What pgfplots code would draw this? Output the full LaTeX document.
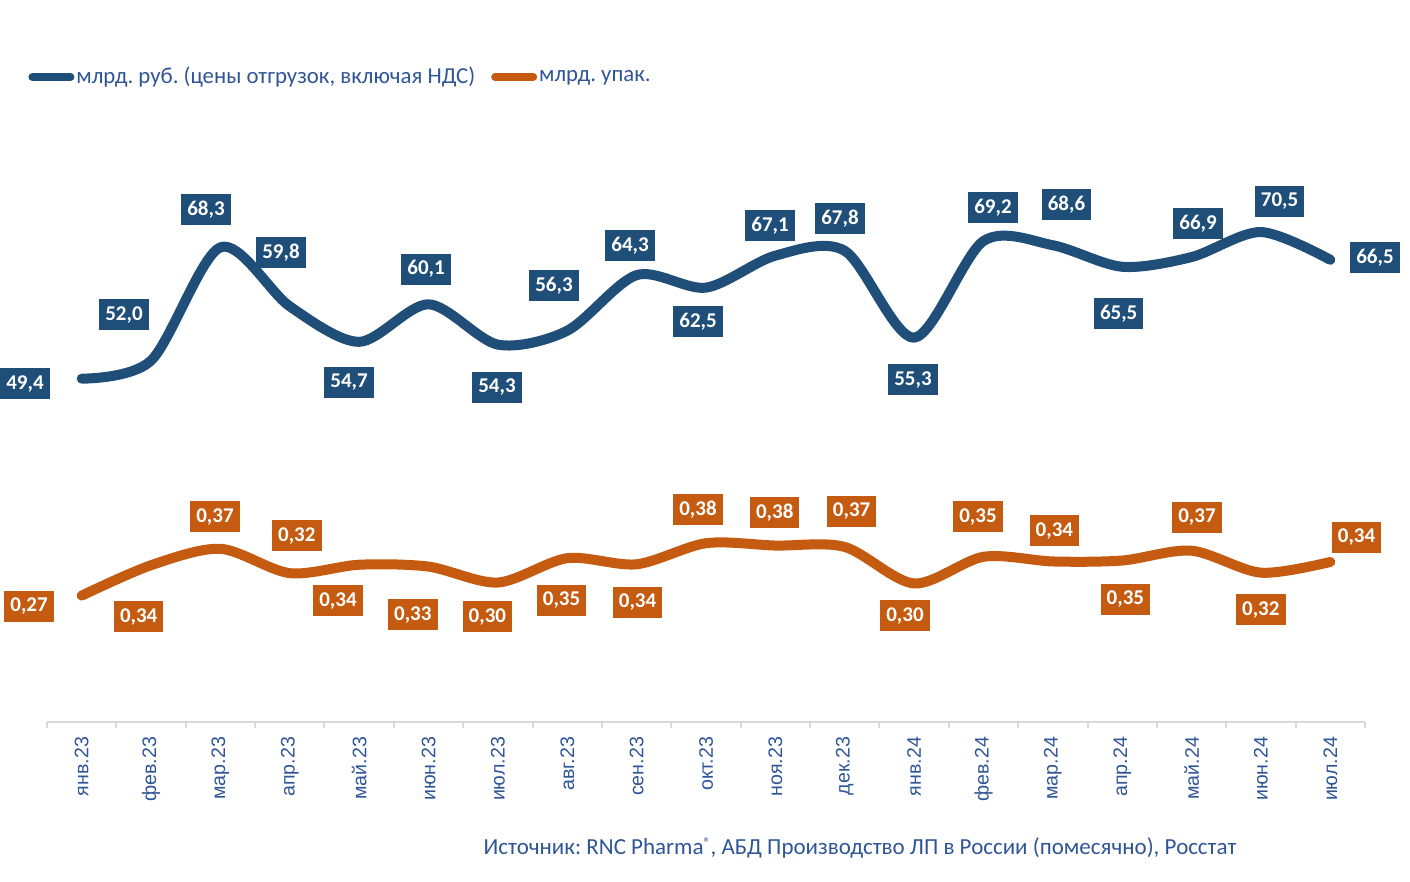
\documentclass[border=0pt]{standalone}
\usepackage{fontspec}
\setmainfont{Carlito}
\newfontfamily\arialfont{Liberation Sans}
\usepackage{pgfplots}
\pgfplotsset{compat=1.18}

\definecolor{rubblue}{HTML}{1F4E79}
\definecolor{upkorange}{HTML}{C55A11}
\definecolor{txtblue}{HTML}{2F5597}
\definecolor{axisgray}{HTML}{D9D9D9}

\tikzset{
  bl/.style={fill=rubblue, text=white, font=\bfseries\fontsize{10.5}{12}\selectfont,
             minimum width=24.75pt, minimum height=15.5pt, inner sep=0pt},
  ol/.style={bl, fill=upkorange},
}

\begin{document}
\frenchspacing
\begin{tikzpicture}
\useasboundingbox (0,0) rectangle (705pt,441pt);

% млрд. руб.
\begin{axis}[
  at={(23.5pt,80pt)}, anchor=south west,
  scale only axis, width=659pt, height=278pt,
  xmin=-0.5, xmax=18.5, ymin=0, ymax=80,
  axis x line*=bottom, axis y line=none,
  axis line style={-, draw=axisgray, line width=1pt},
  xtick={0,...,18},
  xticklabels={янв.23,фев.23,мар.23,апр.23,май.23,июн.23,июл.23,авг.23,сен.23,окт.23,ноя.23,дек.23,янв.24,фев.24,мар.24,апр.24,май.24,июн.24,июл.24},
  major tick length=0pt,
  minor xtick={-0.5,0.5,...,18.5},
  minor tick length=3pt,
  tick align=outside,
  minor tick style={draw=axisgray, line width=1pt},
  xticklabel style={rotate=90, anchor=east, xshift=-4pt,
                    font=\arialfont\fontsize{9.8}{11}\selectfont, text=txtblue},
  clip=false,
]
\addplot[rubblue, line width=5pt, smooth, line cap=round, line join=round] coordinates {
  (0,49.4) (1,52.0) (2,68.3) (3,59.8) (4,54.7) (5,60.1) (6,54.3) (7,56.3) (8,64.3) (9,62.5)
  (10,67.1) (11,67.8) (12,55.3) (13,69.2) (14,68.6) (15,65.5) (16,66.9) (17,70.5) (18,66.5)
};
\node[bl] at (-0.817,48.7) {49,4};
\node[bl] at (0.610,58.6) {52,0};
\node[bl] at (1.792,73.7) {68,3};
\node[bl] at (2.873,67.55) {59,8};
\node[bl] at (3.854,48.85) {54,7};
\node[bl] at (4.964,65.15) {60,1};
\node[bl] at (5.987,48.15) {54,3};
\node[bl] at (6.809,62.75) {56,3};
\node[bl] at (7.905,68.5) {64,3};
\node[bl] at (8.885,57.6) {62,5};
\node[bl] at (9.923,71.4) {67,1};
\node[bl] at (10.932,72.4) {67,8};
\node[bl] at (11.984,49.25) {55,3};
\node[bl] at (13.137,74.0) {69,2};
\node[bl] at (14.197,74.45) {68,6};
\node[bl] at (14.949,58.75) {65,5};
\node[bl] at (16.093,71.7) {66,9};
\node[bl] at (17.269,74.9) {70,5};
\node[bl] at (18.644,66.8) {66,5};
\end{axis}

% млрд. упак.
\begin{axis}[
  at={(23.5pt,80pt)}, anchor=south west,
  scale only axis, width=659pt, height=278pt,
  xmin=-0.5, xmax=18.5, ymin=0, ymax=1.188,
  hide axis, clip=false,
  legend columns=2,
  legend style={at={(-0.0144,1.16)}, anchor=west, draw=none, fill=none,
                inner sep=0pt, text=txtblue, font=\fontsize{11.4}{13}\selectfont,
                nodes={inner sep=1pt}},
  /tikz/every even column/.append style={column sep=7pt},
  legend image code/.code={\draw[#1, line width=4pt, line cap=round] (2pt,0pt) -- (21pt,0pt);},
]
\addlegendimage{rubblue}
\addlegendentry{млрд. руб. (цены отгрузок, включая НДС)}
\addplot[upkorange, line width=5pt, smooth, line cap=round, line join=round] coordinates {
  (0,0.270) (1,0.335) (2,0.370) (3,0.318) (4,0.336) (5,0.332) (6,0.298) (7,0.350) (8,0.337) (9,0.382)
  (10,0.377) (11,0.374) (12,0.296) (13,0.353) (14,0.343) (15,0.345) (16,0.366) (17,0.319) (18,0.342)
};
\addlegendentry{млрд. упак.}
\node[ol] at (-0.759,0.2469) {0,27};
\node[ol] at (0.822,0.2251) {0,34};
\node[ol] at (1.922,0.4382) {0,37};
\node[ol] at (3.101,0.3982) {0,32};
\node[ol] at (3.695,0.2593) {0,34};
\node[ol] at (4.773,0.2294) {0,33};
\node[ol] at (5.849,0.2251) {0,30};
\node[ol] at (6.918,0.2600) {0,35};
\node[ol] at (8.014,0.2561) {0,34};
\node[ol] at (8.885,0.4538) {0,38};
\node[ol] at (9.991,0.4474) {0,38};
\node[ol] at (11.099,0.4499) {0,37};
\node[ol] at (11.869,0.2273) {0,30};
\node[ol] at (12.921,0.4388) {0,35};
\node[ol] at (14.022,0.4089) {0,34};
\node[ol] at (15.046,0.2619) {0,35};
\node[ol] at (16.078,0.4377) {0,37};
\node[ol] at (16.998,0.2401) {0,32};
\node[ol] at (18.378,0.3944) {0,34};
\end{axis}

\node[text=txtblue, font=\fontsize{11.5}{13}\selectfont] at (430pt,17pt)
  {Источник: RNC Pharma\raisebox{0.7ex}{\scalebox{0.6}{®}}, АБД Производство ЛП в России (помесячно), Росстат};
\end{tikzpicture}
\end{document}
